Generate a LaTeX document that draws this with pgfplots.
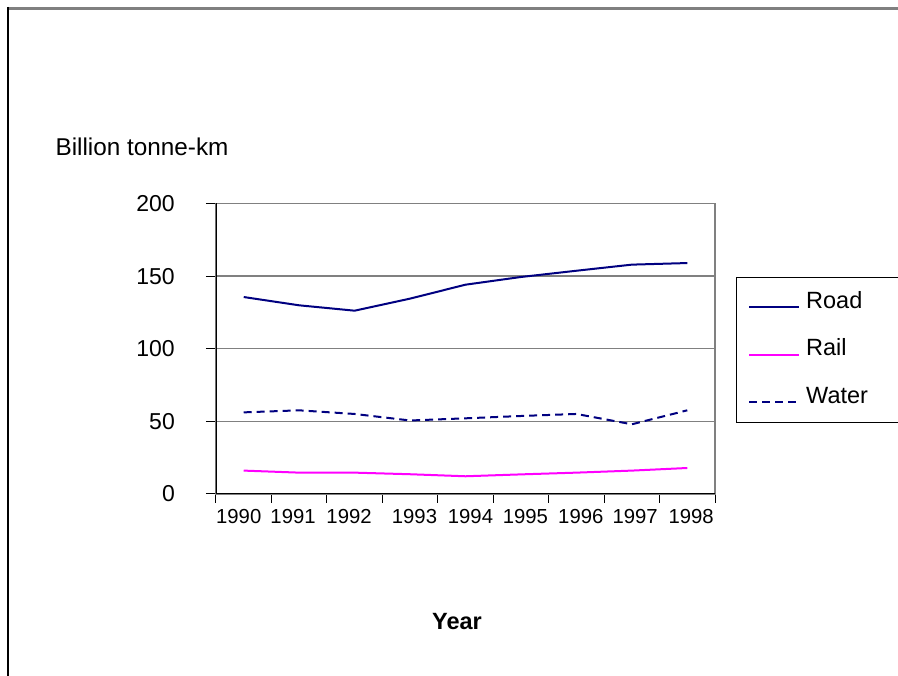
\documentclass[border=0pt]{standalone}
\usepackage{fontspec}
\setmainfont{Liberation Sans}
\usepackage{pgfplots}
\pgfplotsset{compat=1.18}
\definecolor{navy}{RGB}{0,0,128}
\definecolor{mag}{RGB}{255,0,255}
\definecolor{gridgray}{RGB}{128,128,128}
\begin{document}
\begin{tikzpicture}[x=1pt,y=1pt]
\path[use as bounding box] (0,0) rectangle (898,676);
\begin{scope}
\clip (0,0) rectangle (898,676);
\draw[gridgray, line width=3pt] (8,667.5) -- (905,667.5);
\draw[black, line width=1.5pt] (8,669) -- (8,-5);
\draw[black, line width=1pt] (736.7,398.7) rectangle (910,253.3);
\end{scope}
\begin{axis}[
  at={(216pt,182pt)}, anchor=south west,
  scale only axis, width=499pt, height=290.5pt,
  xmin=0, xmax=9, ymin=0, ymax=200,
  /pgf/number format/assume math mode=true,
  ytick={0,50,100,150,200},
  xtick={0.41,1.39,2.4,3.58,4.59,5.58,6.58,7.56,8.57},
  xticklabels={1990,1991,1992,1993,1994,1995,1996,1997,1998},
  major x tick style={draw=none},
  minor xtick={0,1,2,3,4,5,6,7,8,9},
  xtick pos=bottom, ytick pos=left,
  tick align=outside,
  major tick length=10pt,
  minor tick length=9pt,
  tick style={black, line width=1pt},
  minor tick style={black, line width=1pt},
  ymajorgrids,
  grid style={gridgray, line width=1.5pt},
  axis line style={gridgray, line width=1.5pt},
  yticklabel style={font=\fontsize{23}{23}\selectfont, anchor=east, inner sep=0pt, xshift=-31pt},
  xticklabel style={font=\fontsize{20.3}{20.3}\selectfont, anchor=north, inner sep=0pt, yshift=-5pt},
  xlabel={\textbf{Year}},
  ylabel={Billion tonne-km},
  every axis x label/.style={at={(axis description cs:0.483,-0.4389)}, anchor=center, font=\fontsize{23.5}{23.5}\selectfont},
  every axis y label/.style={at={(axis description cs:-0.3285,1.1945)}, anchor=west, font=\fontsize{24.3}{24.3}\selectfont},
  legend style={at={(axis description cs:1.04349,0.74595)}, anchor=north west, draw=none, fill=none,
     inner xsep=11.3pt, inner ysep=14pt, row sep=25.5pt, column sep=6pt,
     font=\fontsize{23.5}{23.5}\selectfont,
     nodes={inner sep=0pt, text height=17pt, text depth=5pt}},
  legend cell align=left,
  legend image code/.code={\draw[#1] (0pt,-5pt) -- (50pt,-5pt);},
]
\addplot[navy, line width=2pt] coordinates {
 (0.5,135.6) (1.5,129.9) (2.5,126.2) (3.5,134.5) (4.5,144.1) (5.5,149.4) (6.5,153.7) (7.5,157.9) (8.5,159.0)};
\addlegendentry{Road}
\addplot[mag, line width=2pt] coordinates {
 (0.5,16.1) (1.5,14.7) (2.5,14.7) (3.5,13.6) (4.5,12.2) (5.5,13.5) (6.5,14.7) (7.5,16.1) (8.5,17.9)};
\addlegendentry{Rail}
\addplot[navy, line width=2pt, dash pattern=on 8pt off 5pt] coordinates {
 (0.5,56.2) (1.5,57.6) (2.5,55.1) (3.5,50.6) (4.5,52.1) (5.5,53.7) (6.5,55.1) (7.5,48.0) (8.5,57.6)};
\addlegendentry{Water}
\draw[black, line width=1.3pt] (rel axis cs:0,1) -- (rel axis cs:0,0) -- (rel axis cs:1,0);
\end{axis}
\end{tikzpicture}
\end{document}
